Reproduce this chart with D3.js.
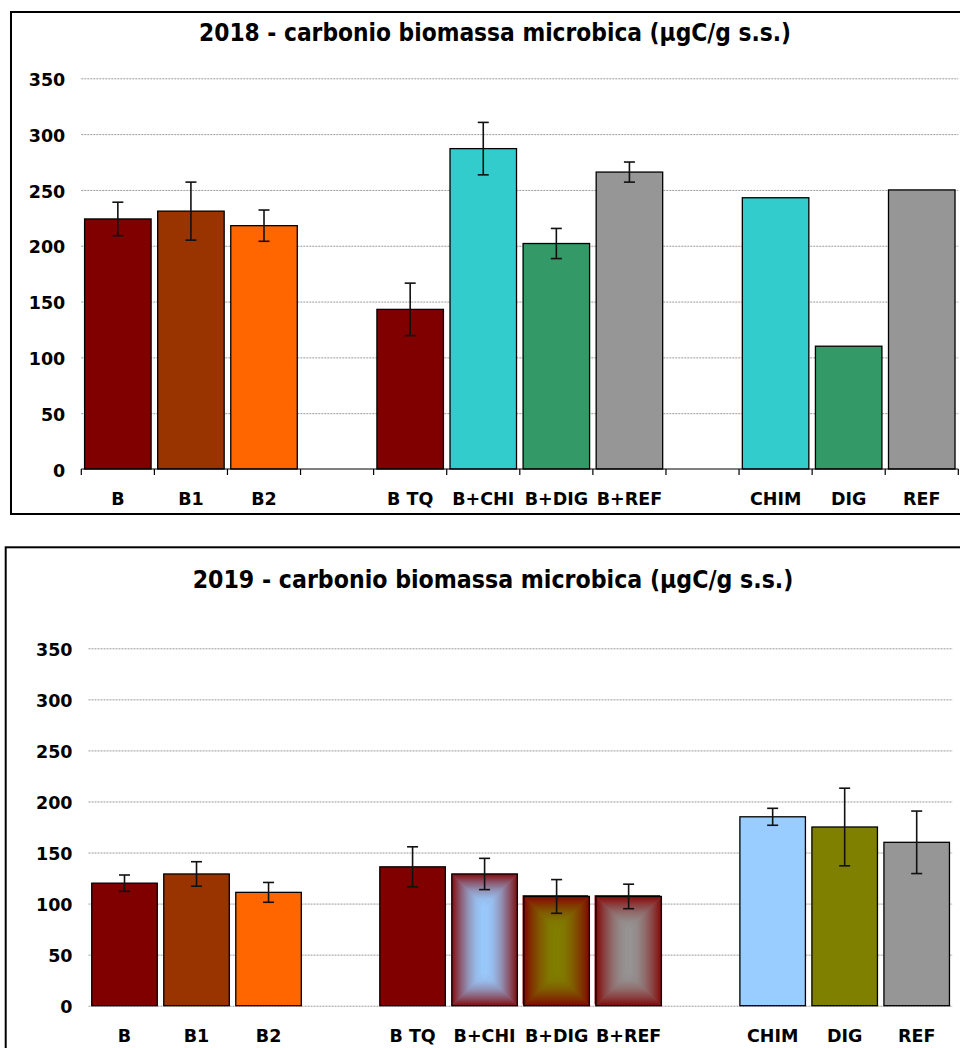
<!DOCTYPE html>
<html><head><meta charset="utf-8">
<script src="https://cdn.jsdelivr.net/npm/d3@7"></script>
<style>
html,body{margin:0;padding:0;background:#fff;}
svg{display:block;}
text{font-family:"DejaVu Sans",sans-serif;font-weight:bold;fill:#000;}
text.title{font-family:"DejaVu Sans Condensed","DejaVu Sans",sans-serif;font-stretch:condensed;}
</style></head><body>
<svg id="chart" width="960" height="1048"></svg>
<script>
// Treatments along the x axis; empty strings are spacer slots between groups
const categories = ["B","B1","B2","","B TQ","B+CHI","B+DIG","B+REF","","CHIM","DIG","REF"];
const yTicks = [0,50,100,150,200,250,300,350];

// 2018: means and error-bar half widths (µgC/g s.s.)
const values2018 = [224,231,218,null,143,287,202,266,null,243,110,250];
const errors2018 = [15,26,14,null,23.5,23.5,13.5,9,null,null,null,null];

// 2019: means and error-bar half widths (µgC/g s.s.)
const values2019 = [120,129,111,null,136,129,107,107,null,185,175,160];
const errors2019 = [8,12,9.7,null,19.6,15.3,16.5,12,null,8.3,38,30.6];

const titles = [
  "2018 - carbonio biomassa microbica (µgC/g s.s.)",
  "2019 - carbonio biomassa microbica (µgC/g s.s.)"
];

// Bar colours
const fill2018 = {"B":"#800000","B1":"#993300","B2":"#FF6600","B TQ":"#800000","B+CHI":"#33CCCC",
  "B+DIG":"#339966","B+REF":"#969696","CHIM":"#33CCCC","DIG":"#339966","REF":"#969696"};
const fill2019 = {"B":"#800000","B1":"#993300","B2":"#FF6600","B TQ":"#800000",
  "CHIM":"#99CCFF","DIG":"#808000","REF":"#969696"};
// mixed treatments: centre colour fading to a maroon rim
const boxFill2019 = {"B+CHI":"#99CCFF","B+DIG":"#808000","B+REF":"#969696"};
const rimColour = "#800000";
const shadowed2019 = new Set(["B+DIG","B+REF"]);

const svg = d3.select("#chart");
const defs = svg.append("defs");

const panels = [
  {title:titles[0], values:values2018, errors:errors2018, fills:fill2018, boxes:{}, shadowed:new Set(),
   frame:{x:11,y:12,w:990,h:502}, plot:{x0:81.3,x1:958.3,base:469,top:78.3}, axisLine:true,
   titleX:495, titleY:41, titleW:592, labelY:505},
  {title:titles[1], values:values2019, errors:errors2019, fills:fill2019, boxes:boxFill2019, shadowed:shadowed2019,
   frame:{x:5.7,y:547.3,w:1000,h:520}, plot:{x0:88.5,x1:952.7,base:1005.7,top:648.3}, axisLine:false,
   titleX:493, titleY:588, titleW:601, labelY:1041.7}
];

// gradients for the box-shaded bars, one set per centre colour
const gradIds = {};
const gradStops = [[0,0.06],[0.25,0.42],[0.5,0.72],[0.75,0.92],[1,1]];
function boxGradients(centre){
  if (gradIds[centre]) return gradIds[centre];
  const key = centre.replace("#","");
  const mix = d3.interpolateRgb(rimColour, centre);
  const dirs = {l:[0,0,1,0], r:[1,0,0,0], t:[0,0,0,1], b:[0,1,0,0]};
  const ids = {};
  Object.entries(dirs).forEach(([k,[x1,y1,x2,y2]]) => {
    const id = `box-${key}-${k}`;
    const lg = defs.append("linearGradient").attr("id",id)
      .attr("x1",x1).attr("y1",y1).attr("x2",x2).attr("y2",y2);
    gradStops.forEach(([o,m]) => lg.append("stop").attr("offset",o).attr("stop-color",mix(m)));
    ids[k] = id;
  });
  gradIds[centre] = ids;
  return ids;
}

function drawPanel(p){
  const g = svg.append("g");
  g.append("rect").attr("x",p.frame.x).attr("y",p.frame.y).attr("width",p.frame.w).attr("height",p.frame.h)
    .attr("fill","#fff").attr("stroke","#000").attr("stroke-width",2);

  const x = d3.scaleBand().domain(d3.range(categories.length))
    .range([p.plot.x0,p.plot.x1]).paddingInner(0.09).paddingOuter(0.045);
  const y = d3.scaleLinear().domain([0,350]).range([p.plot.base,p.plot.top]);

  // dotted horizontal gridlines
  const gridVals = p.axisLine ? yTicks.filter(t => t > 0) : yTicks;
  g.append("g").call(d3.axisLeft(y).tickValues(gridVals).tickSize(-(p.plot.x1-p.plot.x0)).tickFormat(""))
    .attr("transform",`translate(${p.plot.x0},0)`)
    .call(a => a.select(".domain").remove())
    .call(a => a.selectAll("line").attr("stroke","#9a9a9a").attr("stroke-dasharray","2,1"));

  // y tick labels
  g.append("g").attr("transform",`translate(${p.plot.x0},0)`)
    .call(d3.axisLeft(y).tickValues(yTicks).tickSize(0).tickPadding(16))
    .call(a => a.select(".domain").remove())
    .call(a => a.attr("font-family",null).attr("font-size",null))
    .call(a => a.selectAll("text").attr("dy","0.41em").style("font-size","17.5px"));

  // category labels
  g.append("g").attr("transform",`translate(0,${p.plot.base})`)
    .call(d3.axisBottom(x).tickSize(0).tickFormat(i => categories[i]))
    .call(a => a.select(".domain").remove())
    .call(a => a.attr("font-family",null).attr("font-size",null))
    .call(a => a.selectAll("text").attr("y",p.labelY-p.plot.base).attr("dy",0).style("font-size","17.5px"));

  const data = categories.map((c,i) => ({c, i, v:p.values[i], e:p.errors[i]})).filter(d => d.v != null);

  // bars
  const bars = g.append("g");
  data.forEach(d => {
    const bx = x(d.i), bw = x.bandwidth(), by = y(d.v), bh = y(0) - y(d.v);
    if (p.boxes[d.c]) {
      if (p.shadowed.has(d.c)) {
        bars.append("rect").attr("x",bx-1.3).attr("y",by-1.3).attr("width",bw).attr("height",bh).attr("fill",rimColour);
      }
      const ids = boxGradients(p.boxes[d.c]);
      const x0 = bx, x1 = bx+bw, y0 = by, y1 = by+bh;
      const dd = Math.min(bw,bh)/2;
      bars.append("rect").attr("x",x0).attr("y",y0).attr("width",bw).attr("height",bh)
        .attr("fill",d3.interpolateRgb(rimColour,p.boxes[d.c])(0.6));
      const polys = [
        ["l",[[x0,y0],[x0+dd,y0+dd],[x0+dd,y1-dd],[x0,y1]]],
        ["r",[[x1,y0],[x1-dd,y0+dd],[x1-dd,y1-dd],[x1,y1]]],
        ["t",[[x0,y0],[x1,y0],[x1-dd,y0+dd],[x0+dd,y0+dd]]],
        ["b",[[x0,y1],[x1,y1],[x1-dd,y1-dd],[x0+dd,y1-dd]]]
      ];
      polys.forEach(([k,pts]) => {
        bars.append("polygon").attr("points",pts.map(q => q.join(",")).join(" "))
          .attr("fill",`url(#${ids[k]})`).attr("stroke",`url(#${ids[k]})`).attr("stroke-width",0.4);
      });
      bars.append("rect").attr("x",x0).attr("y",y0).attr("width",bw).attr("height",bh)
        .attr("fill","none").attr("stroke","#000").attr("stroke-width",1.3);
    } else {
      bars.append("rect").attr("x",bx).attr("y",by).attr("width",bw).attr("height",bh)
        .attr("fill",p.fills[d.c]).attr("stroke","#000").attr("stroke-width",1.3);
    }
  });

  // x axis line with ticks at slot boundaries (2018 panel only)
  if (p.axisLine) {
    const ax = g.append("g");
    ax.append("line").attr("x1",p.plot.x0).attr("x2",p.plot.x1).attr("y1",y(0)).attr("y2",y(0))
      .attr("stroke","#000").attr("stroke-width",1.2);
    ax.selectAll(".tk").data(d3.range(categories.length+1)).join("line").attr("class","tk")
      .attr("x1",i => p.plot.x0 + i*x.step()).attr("x2",i => p.plot.x0 + i*x.step())
      .attr("y1",y(0)).attr("y2",y(0)+6).attr("stroke","#000").attr("stroke-width",1.2);
  }

  // error bars
  const eb = g.append("g").attr("stroke","#111").attr("stroke-width",1.6);
  data.filter(d => d.e != null).forEach(d => {
    const cx = x(d.i) + x.bandwidth()/2;
    eb.append("line").attr("x1",cx).attr("x2",cx).attr("y1",y(d.v-d.e)).attr("y2",y(d.v+d.e));
    [d.v-d.e, d.v+d.e].forEach(v => {
      eb.append("line").attr("x1",cx-5.5).attr("x2",cx+5.5).attr("y1",y(v)).attr("y2",y(v));
    });
  });

  // title, sized to its frame
  const t = g.append("text").attr("class","title").attr("x",p.titleX).attr("y",p.titleY).attr("text-anchor","middle")
    .style("font-size","22px").text(p.title);
  const len = t.node().getComputedTextLength();
  t.style("font-size",(22*p.titleW/len).toFixed(2)+"px");
}

panels.forEach(drawPanel);
</script>
</body></html>
